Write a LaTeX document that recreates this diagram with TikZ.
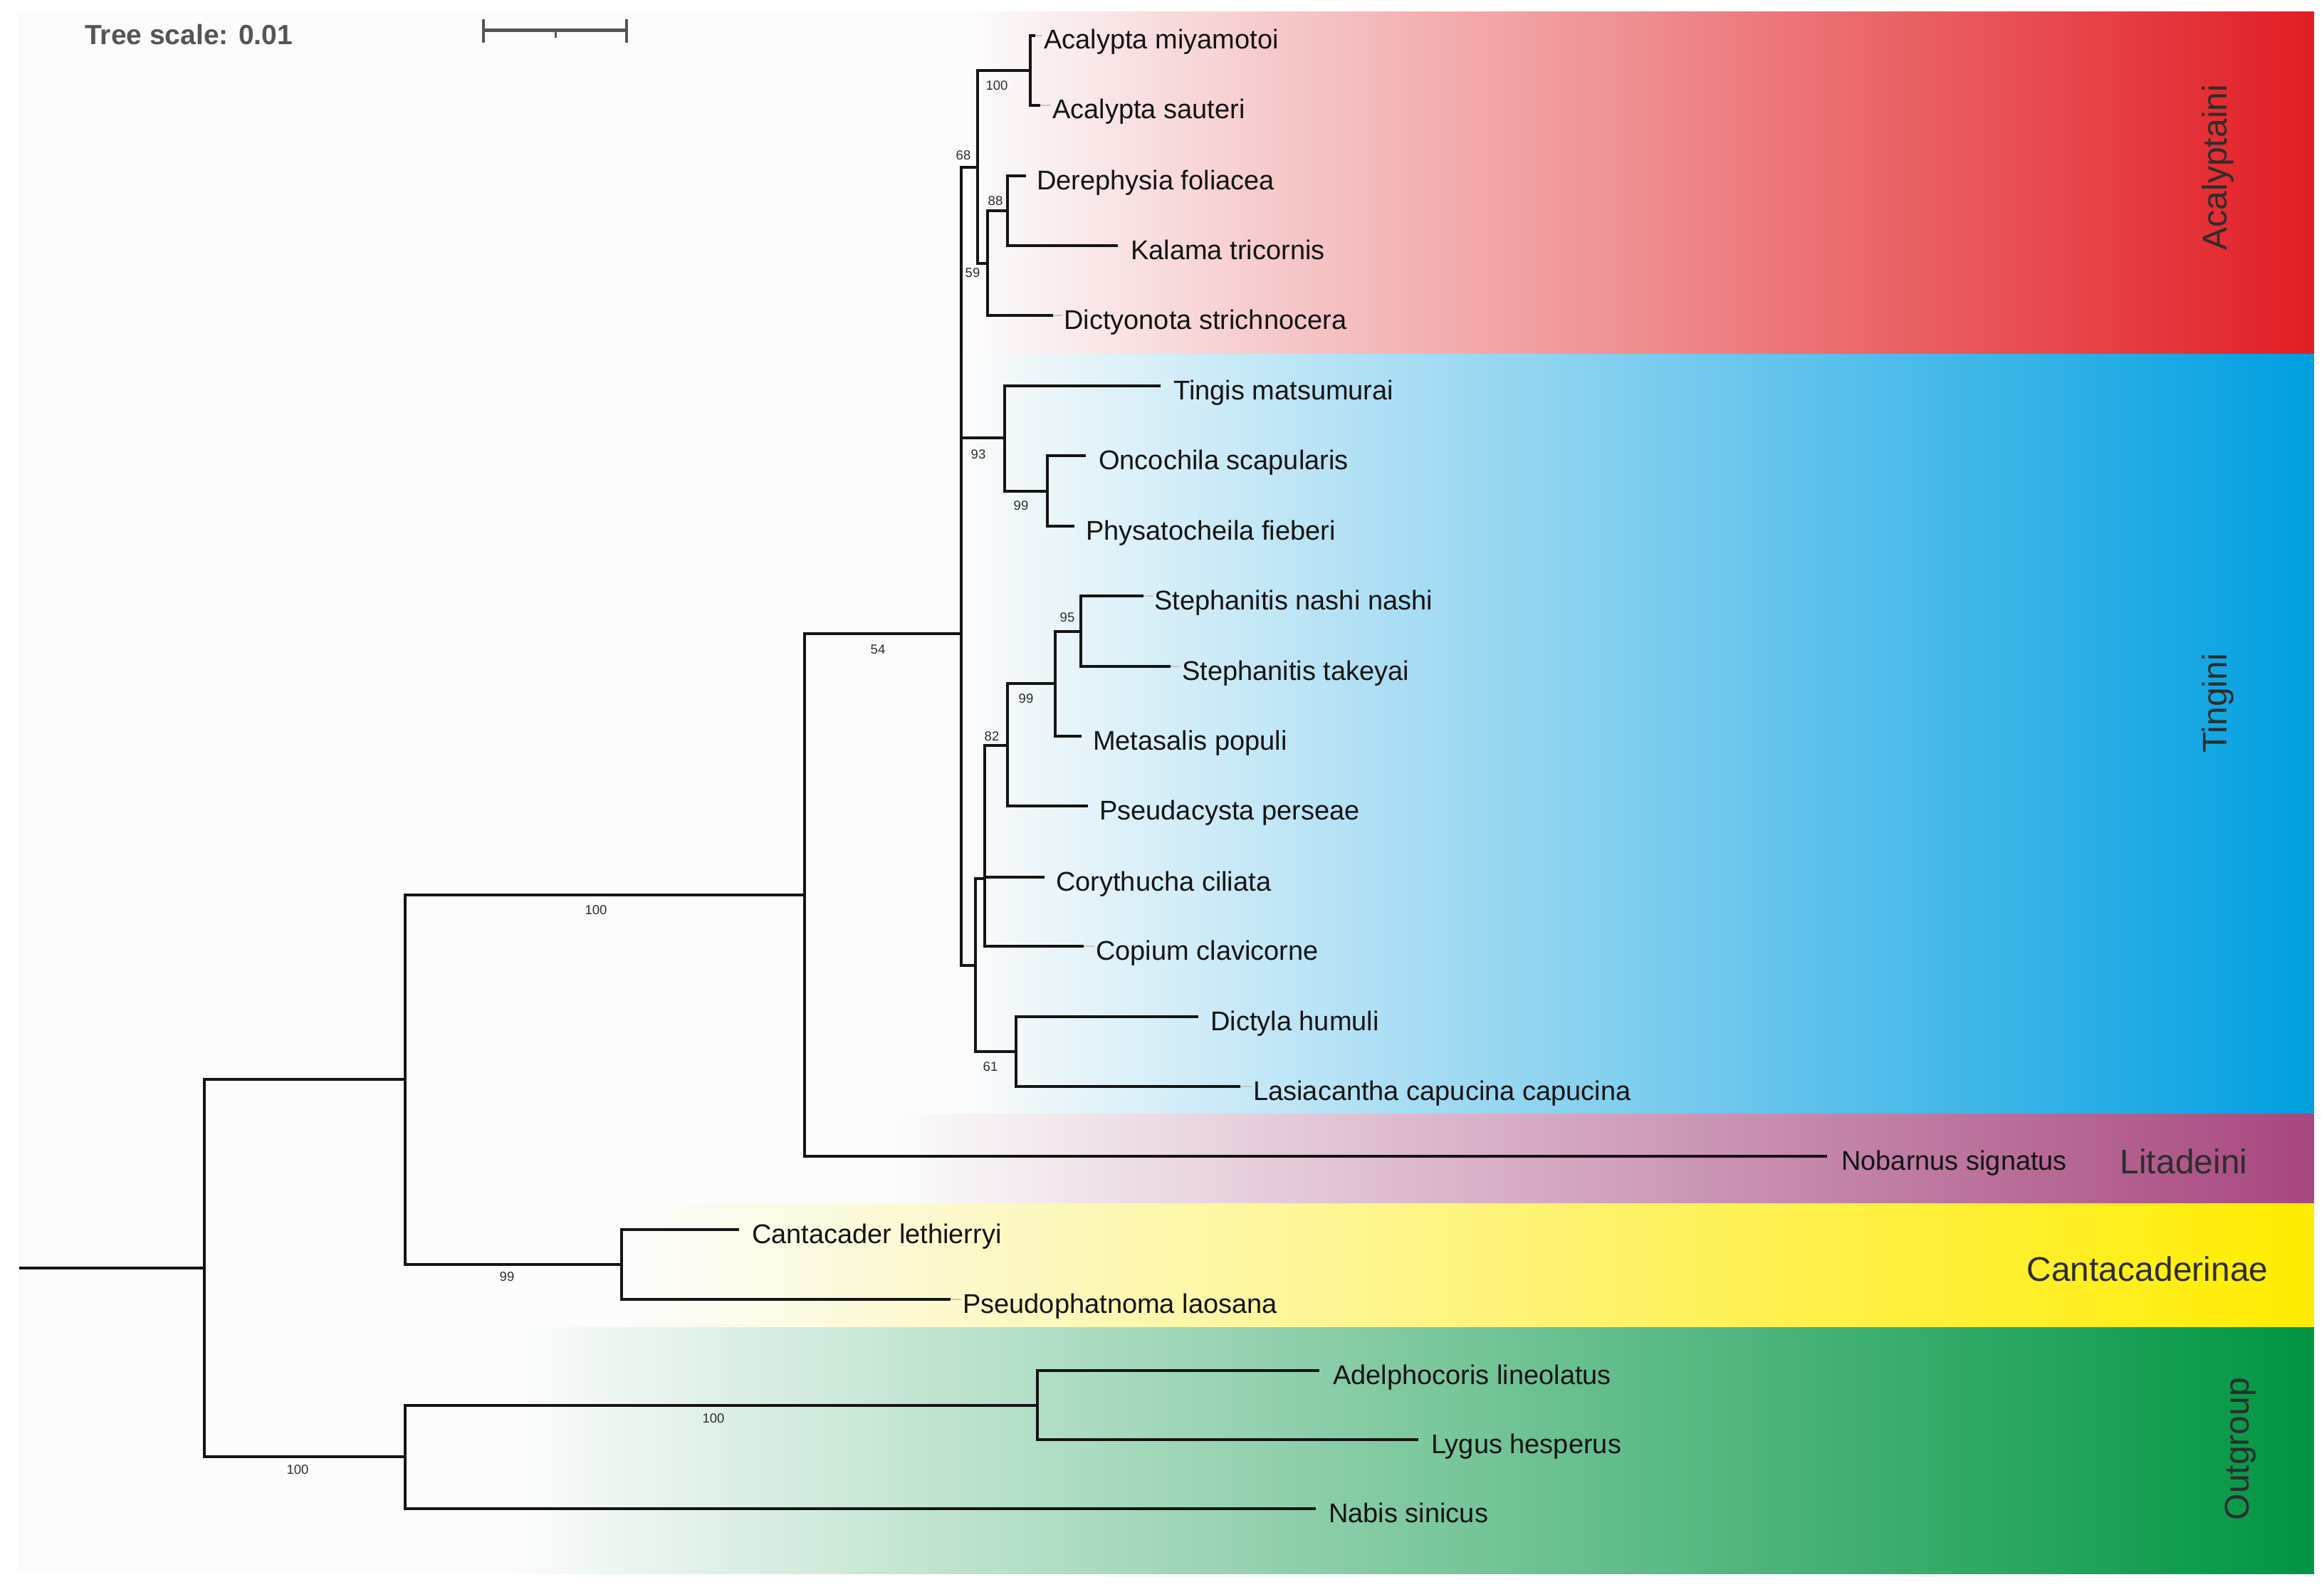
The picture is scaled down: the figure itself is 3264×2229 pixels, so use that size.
\documentclass[tikz,border=0pt]{standalone}
\usepackage{fontspec}
\setmainfont{Liberation Sans}
\definecolor{bgc}{RGB}{252,252,252}
\definecolor{redc}{RGB}{226,29,36}
\definecolor{bluec}{RGB}{0,159,225}
\definecolor{purc}{RGB}{167,71,127}
\definecolor{yelc}{RGB}{255,236,0}
\definecolor{grnc}{RGB}{0,149,66}
\definecolor{txtc}{RGB}{20,20,20}
\definecolor{labc}{RGB}{45,45,45}
\definecolor{sclc}{RGB}{85,85,85}
\begin{document}
\begin{tikzpicture}[x=1pt,y=-1pt,
  branch/.style={line width=4pt, draw=txtc, line join=miter, line cap=butt},
  guide/.style={line width=1.2pt, draw=black!22},
  tip/.style={font=\fontsize{38}{40}\selectfont, anchor=base west, inner sep=0pt, text=txtc},
  boot/.style={font=\fontsize{18.5}{20}\selectfont, inner sep=0pt, text=labc},
  clade/.style={font=\fontsize{48}{50}\selectfont, inner sep=0pt, anchor=base, text=labc},
  band/.style={left color=bgc}]
\useasboundingbox (0,0) rectangle (3264,2229);
\fill[white] (0,0) rectangle (3264,2229);
\fill[bgc] (25,17) rectangle (3250,2210);
% clade bands
\shade[band, right color=redc] (1360,17) rectangle (3250,497);
\shade[band, right color=bluec] (1345,497) rectangle (3250,1564);
\shade[band, right color=purc] (1250,1564) rectangle (3250,1690);
\shade[band, right color=yelc] (880,1690) rectangle (3250,1864);
\shade[band, right color=grnc] (715,1864) rectangle (3250,2210);
% tips and labels
\foreach \i/\ex/\tx/\yy/\nm in {
 1/1454/1466/50/Acalypta miyamotoi,
 2/1461/1478/148/Acalypta sauteri,
 3/1441/1456/247/Derephysia foliacea,
 4/1570/1588/345/Kalama tricornis,
 5/1479/1494/443/Dictyonota strichnocera,
 6/1630/1648/542/Tingis matsumurai,
 7/1525/1543/640/Oncochila scapularis,
 8/1509/1525/739/Physatocheila fieberi,
 9/1606/1621/837/Stephanitis nashi nashi,
 10/1644/1660/936/Stephanitis takeyai,
 11/1519/1535/1034/Metasalis populi,
 12/1528/1544/1132/Pseudacysta perseae,
 13/1467/1483/1232/Corythucha ciliata,
 14/1522/1539/1329/Copium clavicorne,
 15/1683/1700/1428/Dictyla humuli,
 16/1742/1760/1526/Lasiacantha capucina capucina,
 17/2566/2586/1624/Nobarnus signatus,
 18/1038/1056/1727/Cantacader lethierryi,
 19/1335/1352/1825/Pseudophatnoma laosana,
 20/1853/1872/1925/Adelphocoris lineolatus,
 21/1992/2010/2022/Lygus hesperus,
 22/1848/1866/2119/Nabis sinicus}{
  \coordinate (e\i) at (\ex,\yy);
  \coordinate (g\i) at (\tx-2,\yy);
  \node[tip] (l\i) at (\tx,\yy+19) {\nm};
}
\foreach \i in {1,2,5,9,10,14,16,19}{\draw[guide] (e\i) -- (g\i);}
% internal nodes
\coordinate (rootstem) at (27,1781);
\coordinate (root) at (287,1781);
\coordinate (nA) at (569,1516);
\coordinate (nO) at (569,2046);
\coordinate (nT) at (1130,1257);
\coordinate (nC) at (873,1776);
\coordinate (nL) at (1457,1973.5);
\coordinate (nX) at (1350,890);
\coordinate (nAc) at (1373,235);
\coordinate (nAca) at (1447,99);
\coordinate (n59) at (1387,370);
\coordinate (n88) at (1415,296);
\coordinate (nTi) at (1411,615);
\coordinate (n99a) at (1471,689.5);
\coordinate (nR) at (1370,1356);
\coordinate (nCo) at (1383,1234);
\coordinate (n82) at (1415,1047);
\coordinate (n99b) at (1482,960);
\coordinate (n95) at (1518,886.5);
\coordinate (n61) at (1427,1477);
% branches
\draw[branch] (rootstem) -- (root);
\draw[branch] (root) |- (nA);
\draw[branch] (root) |- (nO);
\draw[branch] (nA) |- (nT);
\draw[branch] (nA) |- (nC);
\draw[branch] (nO) |- (nL);
\draw[branch] (nO) |- (e22);
\draw[branch] (nT) |- (nX);
\draw[branch] (nT) |- (e17);
\draw[branch] (nX) |- (nAc);
\draw[branch] (nX) |- (nTi);
\draw[branch] (nX) |- (nR);
\draw[branch] (nAc) |- (nAca);
\draw[branch] (nAc) |- (n59);
\draw[branch] (nAca) |- (e1);
\draw[branch] (nAca) |- (e2);
\draw[branch] (n59) |- (n88);
\draw[branch] (n59) |- (e5);
\draw[branch] (n88) |- (e3);
\draw[branch] (n88) |- (e4);
\draw[branch] (nTi) |- (e6);
\draw[branch] (nTi) |- (n99a);
\draw[branch] (n99a) |- (e7);
\draw[branch] (n99a) |- (e8);
\draw[branch] (nR) |- (nCo);
\draw[branch] (nR) |- (n61);
\draw[branch] (nCo) |- (n82);
\draw[branch] (nCo) |- (e13);
\draw[branch] (nCo) |- (e14);
\draw[branch] (n82) |- (n99b);
\draw[branch] (n82) |- (e12);
\draw[branch] (n99b) |- (n95);
\draw[branch] (n99b) |- (e11);
\draw[branch] (n95) |- (e9);
\draw[branch] (n95) |- (e10);
\draw[branch] (n61) |- (e15);
\draw[branch] (n61) |- (e16);
\draw[branch] (nC) |- (e18);
\draw[branch] (nC) |- (e19);
\draw[branch] (nL) |- (e20);
\draw[branch] (nL) |- (e21);
% bootstrap values
\node[boot] (b1) at (1400,120) {100};
\node[boot] (b2) at (1353,218) {68};
\node[boot] (b3) at (1398,282) {88};
\node[boot] (b4) at (1366,383) {59};
\node[boot] (b5) at (1374,638) {93};
\node[boot] (b6) at (1434,710) {99};
\node[boot] (b7) at (1499,867) {95};
\node[boot] (b8) at (1441,981) {99};
\node[boot] (b9) at (1393,1034) {82};
\node[boot] (b10) at (1391,1498) {61};
\node[boot] (b11) at (1233,912) {54};
\node[boot] (b12) at (837,1278) {100};
\node[boot] (b13) at (712,1793) {99};
\node[boot] (b14) at (1002,1992) {100};
\node[boot] (b15) at (418,2064) {100};
% clade labels
\node[clade, rotate=90] (cAc) at (3127,235) {Acalyptaini};
\node[clade, rotate=90] (cTi) at (3127,988) {Tingini};
\node[clade] (cLi) at (3067,1648) {Litadeini};
\node[clade] (cCa) at (3016,1799) {Cantacaderinae};
\node[clade, rotate=90] (cOu) at (3158,2035) {Outgroup};
% tree scale
\node[font=\bfseries\fontsize{39}{41}\selectfont, text=sclc, anchor=base west, inner sep=0pt] (ts) at (119,63) {Tree scale: 0.01};
\coordinate (sbL) at (679,43);
\coordinate (sbR) at (880,43);
\coordinate (sbM) at (780,43);
\coordinate (sbMb) at (780,53);
\coordinate (sbLt) at (679,27);
\coordinate (sbLb) at (679,60);
\coordinate (sbRt) at (880,27);
\coordinate (sbRb) at (880,60);
\draw[draw=sclc, line width=5pt] (sbL) -- (sbR);
\draw[draw=sclc, line width=4pt] (sbLt) -- (sbLb);
\draw[draw=sclc, line width=4pt] (sbRt) -- (sbRb);
\draw[draw=sclc, line width=3pt] (sbM) -- (sbMb);
\end{tikzpicture}
\end{document}
